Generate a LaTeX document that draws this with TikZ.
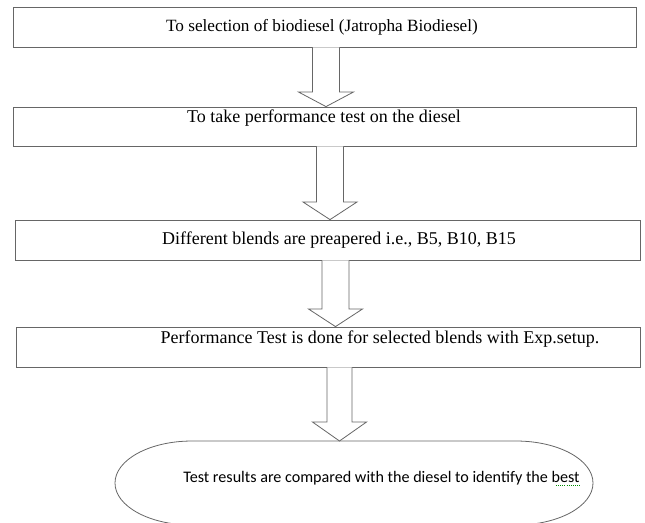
\documentclass[tikz,border=0pt]{standalone}
\usepackage{fontspec}
\setmainfont{Liberation Serif}
\newfontfamily\calibrifont{Carlito}
\usetikzlibrary{calc}
\newcommand\blockarrow[6]{% #1 start anchor, #2 tip anchor, #3 x centre, #4 half shaft, #5 half head, #6 head top y
  \draw[arrowline] ({#3-#4},0 |- #1) -- ({#3-#4},#6) -- ({#3-#5},#6) -- (#3,0 |- #2)
    -- ({#3+#5},#6) -- ({#3+#4},#6) -- ({#3+#4},0 |- #1);}
\begin{document}
\begin{tikzpicture}[x=0.75pt,y=-0.75pt,
  stepbox/.style={draw=black!60, line width=0.6pt, inner sep=0pt},
  arrowline/.style={draw=black!60, line width=0.6pt, fill=white, line join=miter},
  boxtext/.style={inner sep=0pt, font=\fontsize{12.9}{15}\selectfont, text=black},
  widetext/.style={inner sep=0pt, font=\fontsize{13.5}{15}\selectfont, text=black},
  endtext/.style={inner sep=0pt, font=\calibrifont\fontsize{12.1}{14}\selectfont, text=black}]
\useasboundingbox (0,0) rectangle (645,522);
\clip (0,0) rectangle (645,522);

\node[stepbox, minimum width=467.25pt, minimum height=30pt] (b1) at (324.5,27) {};
\node[stepbox, minimum width=467.25pt, minimum height=29.25pt] (b2) at (324.5,126.5) {};
\node[stepbox, minimum width=468.75pt, minimum height=30pt] (b3) at (327.5,240) {};
\node[stepbox, minimum width=468pt, minimum height=30pt] (b4) at (328,347) {};

\node[boxtext] (t1) at (322,27) {To selection of biodiesel (Jatropha Biodiesel)};
\node[widetext] (t2) at (324,118) {To take performance test on the diesel};
\node[widetext] (t3) at (339,240) {Different blends are preapered i.e., B5, B10, B15};
\node[widetext] (t4) at (380,339) {Performance Test is done for selected blends with Exp.setup.};

% terminator shape
\draw[draw=black!60, line width=0.6pt]
  (516,441) .. controls (558.5,441) and (593,459.8) .. (593,483)
  .. controls (593,506.2) and (558.5,525) .. (516,525) -- (192,525)
  .. controls (149.5,525) and (115,506.2) .. (115,483)
  .. controls (115,459.8) and (149.5,441) .. (192,441) -- cycle;
\coordinate (e) at (339.5,441);
\node[endtext] (t5) at (381.5,478) {Test results are compared with the diesel to identify the best};
\draw[green!55!black, line width=0.6pt, densely dotted] ($(t5.base east)+(-24,3)$) -- ($(t5.base east)+(0,3)$);

\blockarrow{b1.south}{b2.north}{326}{13.5}{27.5}{92}
\blockarrow{b2.south}{b3.north}{330}{13.5}{27}{202}
\blockarrow{b3.south}{b4.north}{335.5}{13.5}{27}{309}
\blockarrow{b4.south}{e}{339.5}{12.5}{27}{422}
\end{tikzpicture}
\end{document}
